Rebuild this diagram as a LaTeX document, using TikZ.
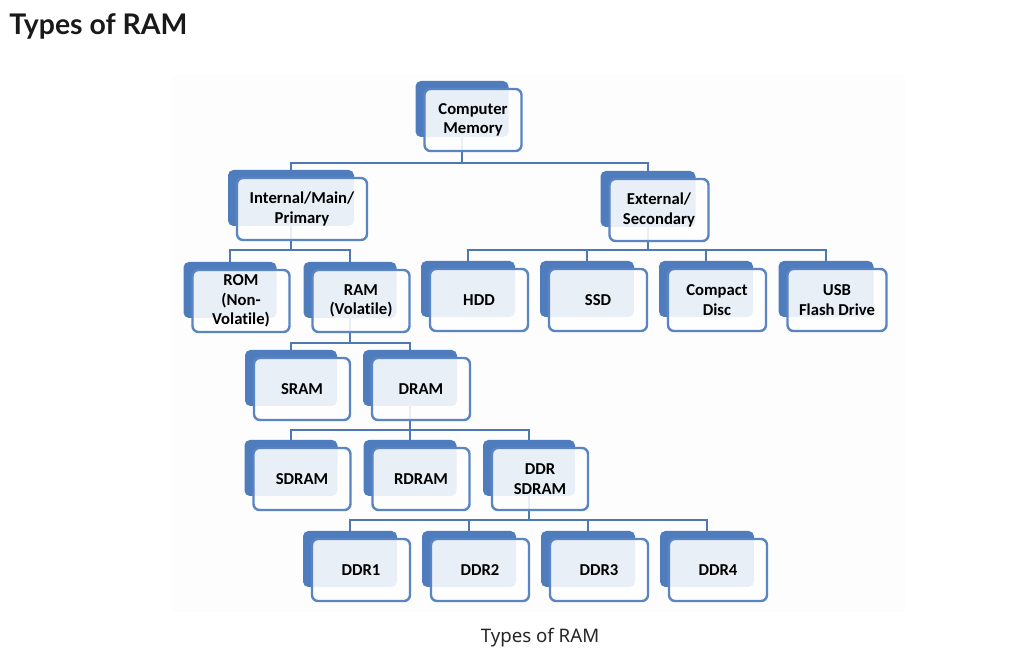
\documentclass[tikz,border=0pt]{standalone}
\usepackage{fontspec}
\setmainfont{Carlito}[Ligatures=NoCommon]
\newfontfamily\titlefont{Lato}
\newfontfamily\capfont{Noto Sans}
\usetikzlibrary{backgrounds}
\definecolor{shadowblue}{HTML}{4F7CBD}
\definecolor{borderblue}{HTML}{5B84C2}
\definecolor{connblue}{HTML}{4D78B4}
\definecolor{panel}{HTML}{FDFDFD}
\tikzset{
  shadowbox/.style={draw=none, fill=shadowblue, rounded corners=4pt, inner sep=0pt},
  frontbox/.style={draw=borderblue, line width=1.8pt, fill=white, fill opacity=0.88, text opacity=1,
    rounded corners=4.5pt, align=center, font=\bfseries\fontsize{12.5}{14.5}\selectfont, text=black, inner sep=0pt},
  conn/.style={draw=connblue, line width=1.8pt},
}
% #1 name, #2 cx, #3 cy, #4 width(px), #5 text
\newcommand\memnode[5]{%
  \node[shadowbox, minimum width=#4*0.75pt-3pt, minimum height=42pt] (#1s) at (#2-11,#3-11) {};
  \node[frontbox, minimum width=#4*0.75pt, minimum height=46.5pt] (#1) at (#2,#3) {#5};
}
\begin{document}
\begin{tikzpicture}[x=0.75pt,y=-0.75pt]
\useasboundingbox (0,0) rectangle (1014,655);
\node[anchor=west, font=\titlefont\bfseries\fontsize{21.3}{24}\selectfont, text=black!90, inner sep=0pt] (title) at (9,26) {Types of RAM};
\node[font=\capfont\fontsize{14}{16}\selectfont, text=black!85, inner sep=0pt] (caption) at (540,638) {Types of RAM};

% bus coordinates
\coordinate (b1) at (0,163);
\coordinate (b2) at (0,250);
\coordinate (b3) at (0,343);
\coordinate (b4) at (0,430);
\coordinate (b5) at (0,520);

% nodes (shadows + fronts); connectors drawn on background
\memnode{cm}{473}{120}{97}{Computer\\Memory}
\memnode{int}{302}{209}{130}{Internal/Main/\\Primary}
\memnode{ext}{659}{210}{99}{External/\\Secondary}
\memnode{rom}{241}{301}{97}{ROM\\(Non-\\Volatile)}
\memnode{ram}{361}{301}{97}{RAM\\(Volatile)}
\memnode{hdd}{479}{300}{98}{HDD}
\memnode{ssd}{598}{300}{98}{SSD}
\memnode{cd}{717}{300}{98}{Compact\\Disc}
\memnode{usb}{837}{300}{99}{USB\\Flash Drive}
\memnode{sram}{302}{389}{96}{SRAM}
\memnode{dram}{421}{389}{98}{DRAM}
\memnode{sdram}{302}{479}{97}{SDRAM}
\memnode{rdram}{421}{479}{97}{RDRAM}
\memnode{ddrs}{540}{479}{96}{DDR\\SDRAM}
\memnode{ddra}{361}{570}{98}{DDR1}
\memnode{ddrb}{480}{570}{98}{DDR2}
\memnode{ddrc}{599}{570}{98}{DDR3}
\memnode{ddrd}{718}{570}{98}{DDR4}

\begin{scope}[on background layer]
\fill[panel] (172,75) rectangle (905,612);
\draw[conn] (cms.center) -- (cms.center |- b1) -| (ints.north);
\draw[conn] (cms.center |- b1) -| (exts.north);

\draw[conn] (ints.center) -- (ints.center |- b2) -| (roms.north);
\draw[conn] (ints.center |- b2) -| (rams.north);

\draw[conn] (exts.center) -- (exts.center |- b2) -| (hdds.north);
\draw[conn] (exts.center |- b2) -| (ssds.north);
\draw[conn] (exts.center |- b2) -| (cds.north);
\draw[conn] (exts.center |- b2) -| (usbs.north);

\draw[conn] (rams.center) -- (rams.center |- b3) -| (srams.north);
\draw[conn] (rams.center |- b3) -| (drams.north);

\draw[conn] (drams.center) -- (drams.center |- b4) -| (sdrams.north);
\draw[conn] (drams.center |- b4) -| (rdrams.north);
\draw[conn] (drams.center |- b4) -| (ddrss.north);

\draw[conn] (ddrss.center) -- (ddrss.center |- b5) -| (ddras.north);
\draw[conn] (ddrss.center |- b5) -| (ddrbs.north);
\draw[conn] (ddrss.center |- b5) -| (ddrcs.north);
\draw[conn] (ddrss.center |- b5) -| (ddrds.north);
\end{scope}
\end{tikzpicture}
\end{document}
